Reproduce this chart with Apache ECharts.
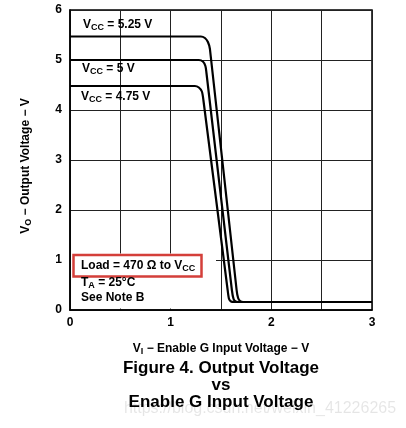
<!DOCTYPE html>
<html>
<head>
<meta charset="utf-8">
<script src="https://cdn.jsdelivr.net/npm/echarts@6/dist/echarts.min.js"></script>
<style>
html,body{margin:0;padding:0;background:#fff;}
#c{width:406px;height:428px;}
</style>
</head>
<body>
<div id="c"></div>
<script>
// Data
const vinVcc525 = [0, 1.30, 1.34, 1.37, 1.39, 1.655, 1.67, 1.69, 1.72, 3];
const voutVcc525 = [5.47, 5.47, 5.44, 5.36, 5.22, 0.40, 0.24, 0.18, 0.16, 0.16];
const vinVcc5 = [0, 1.28, 1.32, 1.345, 1.355, 1.608, 1.625, 1.645, 1.67, 3];
const voutVcc5 = [5.0, 5.0, 4.97, 4.88, 4.75, 0.40, 0.22, 0.17, 0.16, 0.16];
const vinVcc475 = [0, 1.24, 1.28, 1.31, 1.325, 1.566, 1.58, 1.60, 1.63, 3];
const voutVcc475 = [4.48, 4.48, 4.45, 4.37, 4.20, 0.40, 0.22, 0.17, 0.16, 0.16];
const xTicks = [0, 1, 2, 3];
const yTicks = [0, 1, 2, 3, 4, 5, 6];

function pairs(xs, ys) { return xs.map((x, i) => [x, ys[i]]); }

const FONT = 'Liberation Sans, Arial, sans-serif';
const chart = echarts.init(document.getElementById('c'), null, {renderer: 'canvas'});

const lineSeries = (name, xs, ys) => ({
  name, type: 'line', data: pairs(xs, ys), showSymbol: false, smooth: 0.25,
  lineStyle: {color: '#000', width: 2.2}, z: 5, animation: false
});

const rich = {
  b: {fontFamily: FONT, fontSize: 12, fontWeight: 'bold', color: '#000'},
  s: {fontFamily: FONT, fontSize: 9, fontWeight: 'bold', color: '#000', padding: [6, 0, 0, 0]}
};

chart.setOption({
  animation: false,
  backgroundColor: '#fff',
  grid: {left: 70, right: 34, top: 10, bottom: 118, show: true, borderColor: '#000', borderWidth: 1.5},
  xAxis: {
    type: 'value', min: 0, max: 3, interval: 0.5,
    axisLine: {show: true, lineStyle: {color: '#000', width: 1.5}},
    axisTick: {show: false},
    splitLine: {show: true, lineStyle: {color: '#222', width: 1}},
    axisLabel: {
      margin: 7, fontFamily: FONT, fontSize: 12, fontWeight: 'bold', color: '#000',
      formatter: v => xTicks.includes(v) ? String(v) : ''
    },
    name: '{b|V}{s|I}{b| − Enable G Input Voltage − V}',
    nameLocation: 'middle', nameGap: 31,
    nameTextStyle: {rich}
  },
  yAxis: {
    type: 'value', min: 0, max: 6, interval: 1,
    axisLine: {show: true, lineStyle: {color: '#000', width: 1.5}},
    axisTick: {show: false},
    splitLine: {show: true, lineStyle: {color: '#222', width: 1}},
    axisLabel: {
      margin: 8, fontFamily: FONT, fontSize: 12, fontWeight: 'bold', color: '#000',
      formatter: v => yTicks.includes(v) ? String(v) : ''
    },
    name: '{b|V}{s|O}{b| − Output Voltage − V}',
    nameLocation: 'middle', nameGap: 37, nameRotate: 90,
    nameTextStyle: {rich, padding: [0, 12, 0, 0]}
  },
  series: [
    lineSeries('VCC = 5.25 V', vinVcc525, voutVcc525),
    lineSeries('VCC = 5 V', vinVcc5, voutVcc5),
    lineSeries('VCC = 4.75 V', vinVcc475, voutVcc475)
  ],
  graphic: [
    {type: 'rect', shape: {x: 71, y: 253.5, width: 145, height: 55}, style: {fill: '#fff'}, z: 10},
    {type: 'rect', shape: {x: 73.5, y: 255, width: 128, height: 21.5}, style: {fill: 'none', stroke: '#d43f3a', lineWidth: 2.5}, z: 11},
    {type: 'text', x: 81, y: 266, z: 12, style: {text: '{b|Load = 470 Ω to V}{s|CC}', rich, verticalAlign: 'middle'}},
    {type: 'text', x: 81, y: 283, z: 12, style: {text: '{b|T}{s|A}{b| = 25°C}', rich, verticalAlign: 'middle'}},
    {type: 'text', x: 81, y: 298, z: 12, style: {text: '{b|See Note B}', rich, verticalAlign: 'middle'}},
    {type: 'text', x: 83, y: 25, z: 12, style: {text: '{b|V}{s|CC}{b| = 5.25 V}', rich, verticalAlign: 'middle'}},
    {type: 'text', x: 82, y: 69, z: 12, style: {text: '{b|V}{s|CC}{b| = 5 V}', rich, verticalAlign: 'middle'}},
    {type: 'text', x: 81, y: 97, z: 12, style: {text: '{b|V}{s|CC}{b| = 4.75 V}', rich, verticalAlign: 'middle'}},
    {type: 'text', x: 221, y: 360, z: 12, style: {
      text: 'Figure 4. Output Voltage\nvs\nEnable G Input Voltage',
      font: 'bold 17px ' + FONT, fill: '#000', align: 'center', lineHeight: 17
    }},
    {type: 'text', x: 260, y: 409, z: 13, style: {
      text: 'https://blog.csdn.net/weixin_41226265',
      font: '16px ' + FONT, fill: 'rgba(0,0,0,0.10)', align: 'center', verticalAlign: 'middle'
    }}
  ]
});
</script>
</body>
</html>
